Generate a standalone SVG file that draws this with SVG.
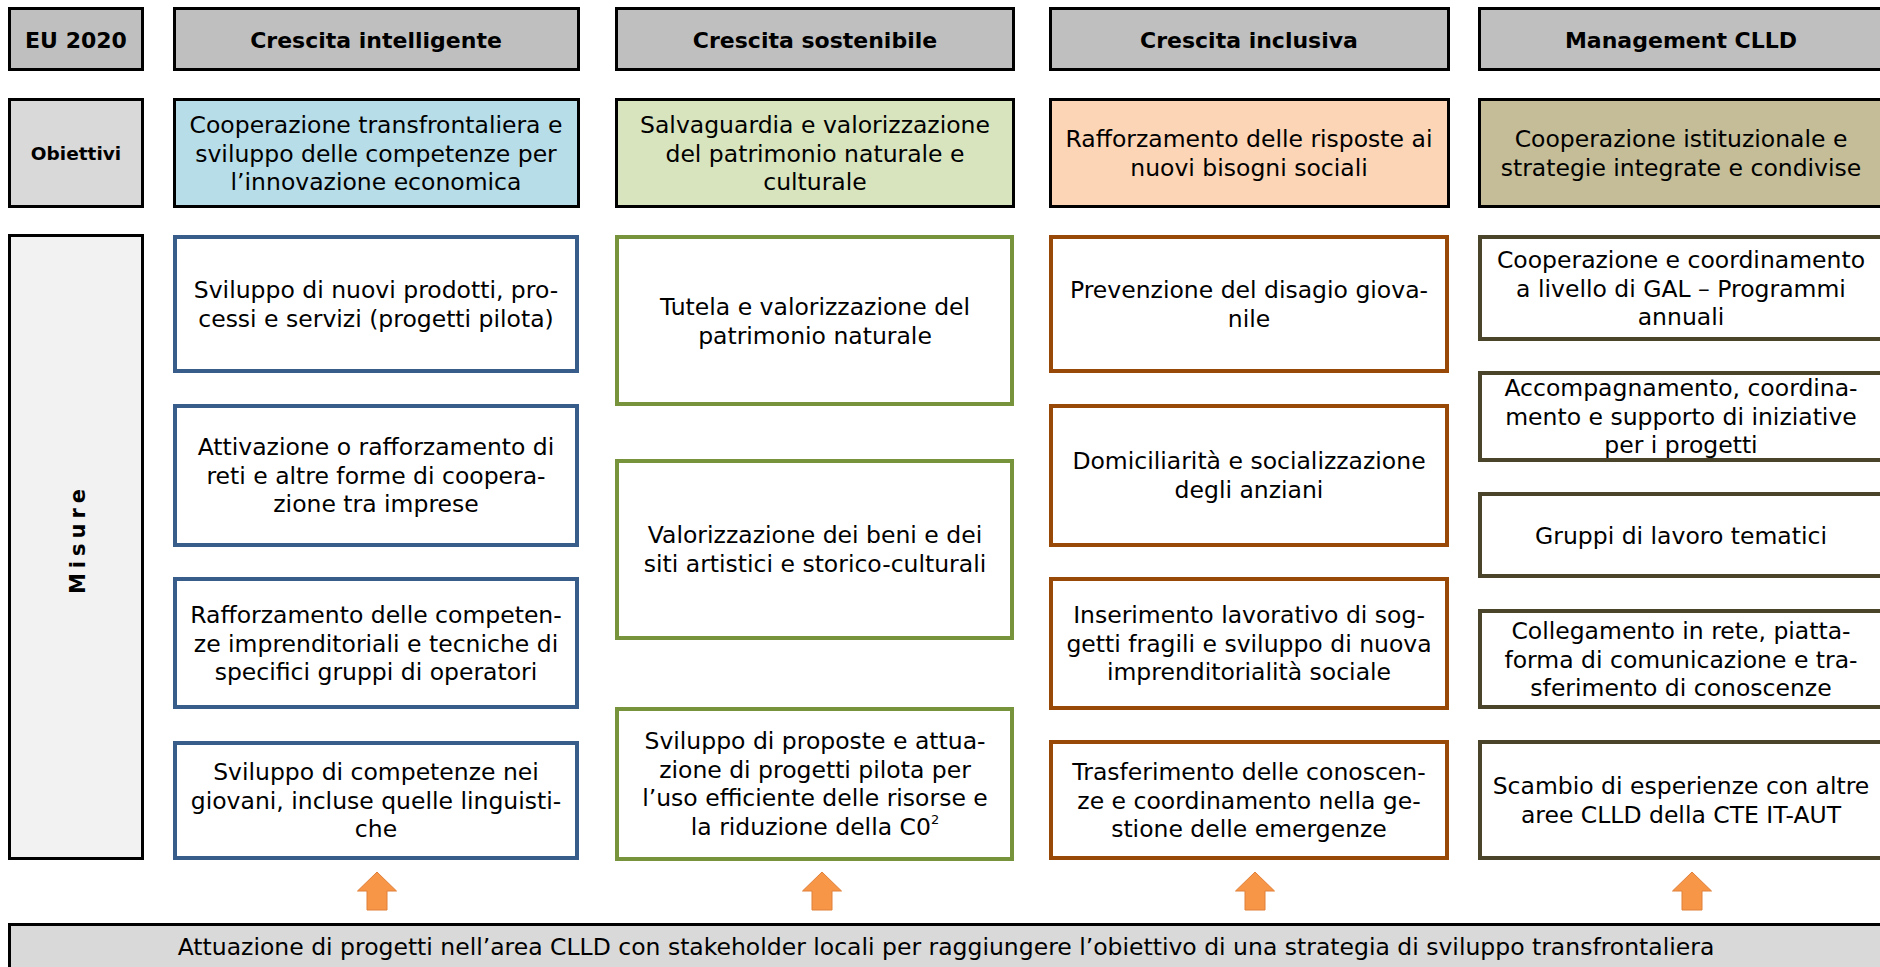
<svg xmlns="http://www.w3.org/2000/svg" xmlns:xlink="http://www.w3.org/1999/xlink" width="1880" height="967" viewBox="0 0 1880 967">
<style>
  text { font-family: "DejaVu Sans", "Liberation Sans", sans-serif; fill: #000; }
  .t { font-size: 23.5px; text-anchor: middle; }
  .hd { font-size: 22px; font-weight: bold; text-anchor: middle; }
  .lbl { font-size: 18.5px; font-weight: bold; text-anchor: middle; }
  .head { fill: #bfbfbf; stroke: #000; stroke-width: 3; }
  .lab1 { fill: #d9d9d9; stroke: #000; stroke-width: 3; }
  .lab2 { fill: #f2f2f2; stroke: #000; stroke-width: 3; }
  .o1 { fill: #b7dde8; stroke: #000; stroke-width: 3; }
  .o2 { fill: #d7e4bd; stroke: #000; stroke-width: 3; }
  .o3 { fill: #fbd5b5; stroke: #000; stroke-width: 3; }
  .o4 { fill: #c4bd97; stroke: #000; stroke-width: 3; }
  .m1 { fill: #fff; stroke: #385d8a; stroke-width: 4; }
  .m2 { fill: #fff; stroke: #77933c; stroke-width: 4; }
  .m3 { fill: #fff; stroke: #984807; stroke-width: 4; }
  .m4 { fill: #fff; stroke: #4a452a; stroke-width: 4; }
  .arrow { fill: #f79646; stroke: #e0803a; stroke-width: 1; }
  .bar { fill: #d9d9d9; stroke: #000; stroke-width: 3; }
</style>
<defs>
  <path id="uparrow" d="M0,0 L19.5,19 L10,19 L10,38 L-10,38 L-10,19 L-19.5,19 Z"/>
</defs>
<rect width="1880" height="967" fill="#fff"/>

<!-- Header row -->
<g id="h-eu"><rect class="head" x="9.5" y="8.5" width="133" height="61"/><text class="hd" x="76" y="47.5">EU 2020</text></g>
<g id="h-1"><rect class="head" x="174.5" y="8.5" width="404" height="61"/><text class="hd" x="376" y="47.5">Crescita intelligente</text></g>
<g id="h-2"><rect class="head" x="616.5" y="8.5" width="397" height="61"/><text class="hd" x="815" y="47.5">Crescita sostenibile</text></g>
<g id="h-3"><rect class="head" x="1050.5" y="8.5" width="398" height="61"/><text class="hd" x="1249" y="47.5">Crescita inclusiva</text></g>
<g id="h-4"><rect class="head" x="1479.5" y="8.5" width="410" height="61"/><text class="hd" x="1681" y="47.5">Management CLLD</text></g>

<!-- Objectives row -->
<g id="obiettivi"><rect class="lab1" x="9.5" y="99.5" width="133" height="107"/><text class="lbl" x="76" y="159.5">Obiettivi</text></g>
<g id="o-1"><rect class="o1" x="174.5" y="99.5" width="404" height="107"/>
  <text class="t" x="376" y="133">Cooperazione transfrontaliera e</text>
  <text class="t" x="376" y="161.5">sviluppo delle competenze per</text>
  <text class="t" x="376" y="190">l’innovazione economica</text></g>
<g id="o-2"><rect class="o2" x="616.5" y="99.5" width="397" height="107"/>
  <text class="t" x="815" y="133">Salvaguardia e valorizzazione</text>
  <text class="t" x="815" y="161.5">del patrimonio naturale e</text>
  <text class="t" x="815" y="190">culturale</text></g>
<g id="o-3"><rect class="o3" x="1050.5" y="99.5" width="398" height="107"/>
  <text class="t" x="1249" y="147">Rafforzamento delle risposte ai</text>
  <text class="t" x="1249" y="175.5">nuovi bisogni sociali</text></g>
<g id="o-4"><rect class="o4" x="1479.5" y="99.5" width="410" height="107"/>
  <text class="t" x="1681" y="147">Cooperazione istituzionale e</text>
  <text class="t" x="1681" y="175.5">strategie integrate e condivise</text></g>

<!-- Misure label -->
<g id="misure"><rect class="lab2" x="9.5" y="235.5" width="133" height="623"/>
  <text class="lbl" transform="translate(85,541) rotate(-90)" x="2" y="0" style="font-size:21px;letter-spacing:5px">Misure</text></g>

<!-- Column 1 measures -->
<g id="m1-1"><rect class="m1" x="175" y="237" width="402" height="134"/>
  <text class="t" x="376" y="298">Sviluppo di nuovi prodotti, pro-</text>
  <text class="t" x="376" y="326.5">cessi e servizi (progetti pilota)</text></g>
<g id="m1-2"><rect class="m1" x="175" y="406" width="402" height="139"/>
  <text class="t" x="376" y="455">Attivazione o rafforzamento di</text>
  <text class="t" x="376" y="483.5">reti e altre forme di coopera-</text>
  <text class="t" x="376" y="512">zione tra imprese</text></g>
<g id="m1-3"><rect class="m1" x="175" y="579" width="402" height="128"/>
  <text class="t" x="376" y="623">Rafforzamento delle competen-</text>
  <text class="t" x="376" y="651.5">ze imprenditoriali e tecniche di</text>
  <text class="t" x="376" y="680">specifici gruppi di operatori</text></g>
<g id="m1-4"><rect class="m1" x="175" y="743" width="402" height="115"/>
  <text class="t" x="376" y="780">Sviluppo di competenze nei</text>
  <text class="t" x="376" y="808.5">giovani, incluse quelle linguisti-</text>
  <text class="t" x="376" y="837">che</text></g>

<!-- Column 2 measures -->
<g id="m2-1"><rect class="m2" x="617" y="237" width="395" height="167"/>
  <text class="t" x="815" y="315">Tutela e valorizzazione del</text>
  <text class="t" x="815" y="343.5">patrimonio naturale</text></g>
<g id="m2-2"><rect class="m2" x="617" y="461" width="395" height="177"/>
  <text class="t" x="815" y="543">Valorizzazione dei beni e dei</text>
  <text class="t" x="815" y="571.5">siti artistici e storico-culturali</text></g>
<g id="m2-3"><rect class="m2" x="617" y="709" width="395" height="150"/>
  <text class="t" x="815" y="749">Sviluppo di proposte e attua-</text>
  <text class="t" x="815" y="777.5">zione di progetti pilota per</text>
  <text class="t" x="815" y="806">l’uso efficiente delle risorse e</text>
  <text class="t" x="815" y="834.5">la riduzione della C0<tspan font-size="13" dy="-11">2</tspan></text></g>

<!-- Column 3 measures -->
<g id="m3-1"><rect class="m3" x="1051" y="237" width="396" height="134"/>
  <text class="t" x="1249" y="298">Prevenzione del disagio giova-</text>
  <text class="t" x="1249" y="326.5">nile</text></g>
<g id="m3-2"><rect class="m3" x="1051" y="406" width="396" height="139"/>
  <text class="t" x="1249" y="469">Domiciliarità e socializzazione</text>
  <text class="t" x="1249" y="497.5">degli anziani</text></g>
<g id="m3-3"><rect class="m3" x="1051" y="579" width="396" height="129"/>
  <text class="t" x="1249" y="623">Inserimento lavorativo di sog-</text>
  <text class="t" x="1249" y="651.5">getti fragili e sviluppo di nuova</text>
  <text class="t" x="1249" y="680">imprenditorialità sociale</text></g>
<g id="m3-4"><rect class="m3" x="1051" y="742" width="396" height="116"/>
  <text class="t" x="1249" y="780">Trasferimento delle conoscen-</text>
  <text class="t" x="1249" y="808.5">ze e coordinamento nella ge-</text>
  <text class="t" x="1249" y="837">stione delle emergenze</text></g>

<!-- Column 4 measures -->
<g id="m4-1"><rect class="m4" x="1480" y="237" width="410" height="102"/>
  <text class="t" x="1681" y="268">Cooperazione e coordinamento</text>
  <text class="t" x="1681" y="296.5">a livello di GAL – Programmi</text>
  <text class="t" x="1681" y="325">annuali</text></g>
<g id="m4-2"><rect class="m4" x="1480" y="373" width="410" height="87"/>
  <text class="t" x="1681" y="396">Accompagnamento, coordina-</text>
  <text class="t" x="1681" y="424.5">mento e supporto di iniziative</text>
  <text class="t" x="1681" y="453">per i progetti</text></g>
<g id="m4-3"><rect class="m4" x="1480" y="494" width="410" height="82"/>
  <text class="t" x="1681" y="543.5">Gruppi di lavoro tematici</text></g>
<g id="m4-4"><rect class="m4" x="1480" y="611" width="410" height="96"/>
  <text class="t" x="1681" y="639">Collegamento in rete, piatta-</text>
  <text class="t" x="1681" y="667.5">forma di comunicazione e tra-</text>
  <text class="t" x="1681" y="696">sferimento di conoscenze</text></g>
<g id="m4-5"><rect class="m4" x="1480" y="742" width="410" height="116"/>
  <text class="t" x="1681" y="794">Scambio di esperienze con altre</text>
  <text class="t" x="1681" y="822.5">aree CLLD della CTE IT-AUT</text></g>

<!-- Arrows -->
<g id="connectors">
  <use xlink:href="#uparrow" href="#uparrow" class="arrow" transform="translate(377,872)"/>
  <use xlink:href="#uparrow" href="#uparrow" class="arrow" transform="translate(822,872)"/>
  <use xlink:href="#uparrow" href="#uparrow" class="arrow" transform="translate(1255,872)"/>
  <use xlink:href="#uparrow" href="#uparrow" class="arrow" transform="translate(1692,872)"/>
</g>

<!-- Bottom bar -->
<g id="bottom"><rect class="bar" x="9.5" y="924.5" width="1890" height="60"/>
  <text class="t" x="946" y="955">Attuazione di progetti nell’area CLLD con stakeholder locali per raggiungere l’obiettivo di una strategia di sviluppo transfrontaliera</text></g>
</svg>
